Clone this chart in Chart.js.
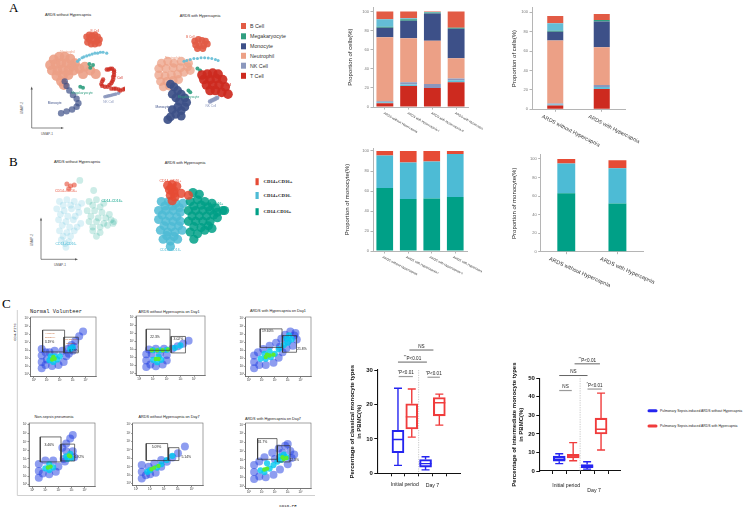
<!DOCTYPE html>
<html>
<head>
<meta charset="utf-8">
<script src="https://cdn.jsdelivr.net/npm/chart.js@4.4.1/dist/chart.umd.min.js"></script>
<style>
  body { margin: 0; width: 753px; height: 509px; background: #fff; position: relative; overflow: hidden; }
  canvas { position: absolute; }
</style>
</head>
<body>
<svg width="753" height="509" style="position:absolute;left:0;top:0" font-family="'Liberation Sans', Arial, sans-serif">
  <text x="9" y="12" font-family="'Liberation Serif', serif" font-size="13">A</text>
  <text x="9" y="166" font-family="'Liberation Serif', serif" font-size="13">B</text>
  <text x="2" y="308" font-family="'Liberation Serif', serif" font-size="13">C</text>

  <text x="68" y="15.5" font-size="3.8" text-anchor="middle" fill="#222">ARDS without Hypercapnia</text>
  <text x="200" y="16.5" font-size="3.8" text-anchor="middle" fill="#222">ARDS with Hypercapnia</text>
  <text x="77" y="162.5" font-size="3.8" text-anchor="middle" fill="#222">ARDS without Hypercapnia</text>
  <text x="185" y="164" font-size="3.8" text-anchor="middle" fill="#222">ARDS with Hypercapnia</text>

  <g id="legA" font-size="5.3" fill="#333"></g>
  <g id="legB" font-size="4.8" fill="#222" font-family="'Liberation Serif', serif" font-weight="bold"></g>

  <g stroke="#555" stroke-width="0.7" fill="none">
    <path d="M31.7 89 V128 H61"/>
    <path d="M41 220 V259.3 H75"/>
  </g>
  <g fill="#555">
    <polygon points="30.6,89.5 32.8,89.5 31.7,86.5"/>
    <polygon points="61,126.9 61,129.1 64,128"/>
    <polygon points="39.9,220.5 42.1,220.5 41,217.5"/>
    <polygon points="75,258.2 75,260.4 78,259.3"/>
  </g>
  <text transform="translate(23,108) rotate(-90)" font-size="3.2" text-anchor="middle" fill="#555">UMAP-2</text>
  <text x="47" y="134.5" font-size="3.2" text-anchor="middle" fill="#555">UMAP-1</text>
  <text transform="translate(33,240) rotate(-90)" font-size="3.2" text-anchor="middle" fill="#555">UMAP-2</text>
  <text x="60" y="266" font-size="3.2" text-anchor="middle" fill="#555">UMAP-1</text>

  <path d="M17.3 310 V495.5 H315" stroke="#cfcfcf" stroke-width="1" fill="none"/>
  <text transform="translate(15.5,332) rotate(-90)" font-size="3.6" text-anchor="middle" font-family="'Liberation Mono', monospace" fill="#222">CD4-FITC</text>
  <text x="288" y="507" font-size="4.2" text-anchor="middle" font-family="'Liberation Mono', monospace" fill="#222">CD16-PE</text>
  <g id="flowTitles" fill="#222"></g>

  <line x1="649" y1="410.7" x2="656" y2="410.7" stroke="#2525f0" stroke-width="3" stroke-linecap="round"/>
  <line x1="649" y1="426" x2="656" y2="426" stroke="#f03c3c" stroke-width="3" stroke-linecap="round"/>
  <text x="660" y="411.9" font-size="3.4" fill="#222">Pulmonary Sepsis-induced ARDS without Hypercapnia</text>
  <text x="660" y="427.2" font-size="3.4" fill="#222">Pulmonary Sepsis-induced ARDS with Hypercapnia</text>
</svg>

<script>
// ---------------- data ----------------
// A: UMAP clusters (UMAP units, one unit ~ one pixel of the plot)
const umapA1 = {
  'Monocyte': [[49,48],[51,43],[54,38],[58,33],[62,29],[64,24],[62,20],[57,17],[51,15],[45,13]],
  'T Cell': [[95,61],[97,61],[99,62],[101,62],[103,60],[103,58],[103,55],[102,53],[102,50],[101,48],[100,46],[98,44],[96,42],[93,42],[90,43],[89,45],[90,48],[91,50],[100,40],[103,40],[105,40],[108,39],[110,38],[113,39],[115,40]],
  'NK Cell': [[93,31],[95,31.5],[97,32],[99,32.5],[101,33],[103,33.5],[105,34],[108,35]],
  'Megakaryocyte': [[66,42],[69,41],[76,67],[80,66],[77,63]],
  'B Cell': [[73,97],[76,99],[79,98],[82,99],[85,97],[87,94],[84,92],[80,93],[76,94],[74,91],[78,89],[82,89],[86,90]],
  'Other': [[63,70],[65,72],[68,74],[70,75],[73,76],[76,77],[79,78],[82,79],[85,79],[88,80],[91,80],[95,79]],
  'Neutrophil': [[37,72],[43,75],[49,75],[55,73],[60,68],[33,66],[39,67],[45,68],[51,68],[57,65],[35,60],[41,60],[47,61],[53,60],[59,60],[40,54],[47,54],[53,55],[45,48],[48,44],[65,62],[71,64],[77,60],[83,56],[69,56]]
};
const umapA2 = {
  'Monocyte': [[23,45],[27,42],[31,38],[35,34],[39,30],[41,25],[39,20],[35,16],[29,12],[23,9],[25,34],[29,30],[33,26],[31,20],[25,17],[20,6],[35,10]],
  'T Cell': [[58,55],[64,56],[70,57],[76,56],[60,50],[67,50],[74,51],[81,50],[63,44],[70,44],[77,44],[84,42],[73,38],[80,36],[87,34],[67,38]],
  'NK Cell': [[67,26],[69,27],[71,28],[73,29],[75,30]],
  'Megakaryocyte': [[43,38],[45,36],[53,62],[56,60]],
  'B Cell': [[50,92],[54,94],[58,93],[62,92],[64,89],[60,87],[55,87],[51,88],[53,84],[59,84]],
  'Other': [[38,70],[41,71],[45,72],[49,73],[53,73],[57,74],[61,74],[65,73.5],[69,73],[73,72],[76,71]],
  'Neutrophil': [[13,68],[20,70],[27,68],[35,70],[43,68],[10,62],[18,62],[26,63],[34,63],[42,64],[10,55],[17,54],[24,55],[31,56],[38,58],[45,60],[12,48],[19,48],[26,49],[32,50],[15,42],[22,43]]
};
const labelsA1 = [['B Cell',82,103],['Neutrophil',52,80],['T Cell',108,52],['Megakaryocyte',68,35],['NK Cell',97,25],['Monocyte',38,24]];
const labelsA2 = [['B Cell',45,97],['Neutrophil',25,73],['T Cell',86,44],['NK Cell',68,21],['Megakaryocyte',43,31],['Monocyte',14,20]];
const cellTypes = ['B Cell','Megakaryocyte','Monocyte','Neutrophil','NK Cell','T Cell'];

// A: stacked proportions, bottom to top
const sampleLabels = ['ARDS without Hypercapnia','ARDS with Hypercapnia-I','ARDS with Hypercapnia-II','ARDS with Hypercapnia-III'];
const groupLabels = ['ARDS without Hypercapnia','ARDS with Hypercapnia'];
const stackOrder = ['T Cell','Other','NK Cell','Neutrophil','Monocyte','Megakaryocyte','Other','B Cell'];
const cellsBySample = [
  [4, 22, 20, 26],
  [1, 1.5, 0, 2],
  [1, 2.5, 4, 2],
  [67, 46, 45.5, 21],
  [10, 18.5, 28.5, 31],
  [1, 1.5, 1, 1],
  [8, 1, 0.5, 0],
  [8, 7, 0.5, 17]
];
const cellsByGroup = [
  [4, 21], [1, 2], [1, 2], [65, 39], [9, 26.5], [1, 1.5], [7.7, 0], [7.5, 6.3]
];

// B: monocyte subsets
const monoTypes = ['CD14+CD16+','CD14+CD16-','CD14-CD16+'];
const umapB1 = {
  'CD14+CD16+': [[41,84],[45,82],[49,83],[43,79]],
  'CD14-CD16+': [[65,65],[73,67],[81,63],[63,55],[71,55],[79,53],[87,51],[65,43],[73,43],[81,41],[89,45],[69,33],[77,31],[92,43],[91,41],[55,88],[70,77],
                 [69,61],[77,59],[67,49],[75,47],[83,47],[69,37],[77,37],[85,39],[73,27]],
  'CD14+CD16-': [[33,65],[41,67],[49,65],[57,63],[30,57],[38,55],[46,57],[54,53],[32,45],[40,43],[48,45],[56,41],[33,33],[41,31],[49,33],[35,23],[43,21],[40,15],
                 [37,61],[45,61],[53,59],[34,51],[42,49],[50,49],[36,39],[44,37],[52,37],[37,27],[45,27],[39,19]]
};
const umapB2 = {
  'CD14+CD16+': [[20,78],[25,79],[30,77],[22,73],[27,72],[23,67],[28,65],[25,61],[35,69],[43,67],[24,75],[27,69]],
  'CD14-CD16+': [[45,60],[53,62],[61,60],[69,58],[43,50],[51,50],[59,50],[67,50],[75,48],[43,38],[51,38],[59,38],[67,38],[75,42],[81,50],[45,26],[53,24],[61,28],[69,30],[49,18],[48,70],[55,68],[83,50],
                 [49,55],[57,56],[65,54],[73,53],[47,44],[55,44],[63,44],[71,45],[49,32],[57,31],[65,33]],
  'CD14+CD16-': [[13,60],[21,60],[29,58],[37,58],[10,50],[18,50],[26,50],[34,48],[10,40],[18,38],[26,38],[34,38],[12,28],[20,26],[28,26],[36,28],[15,18],[23,16],[31,18],[23,10],
                 [17,55],[25,55],[33,53],[14,45],[22,44],[30,43],[16,33],[24,32],[32,33],[19,22],[27,21]]
};
const labelsB1 = [['CD14+CD16+',40,76],['CD14-CD16+',90,65],['CD14+CD16-',40,19]];
const labelsB2 = [['CD14+CD16+',23,83],['CD14-CD16+',70,57],['CD14+CD16-',23,6]];
const monoSampleCD14nCD16p = [63, 52, 52.5, 54];
const monoSampleCD14pCD16n = [32.5, 36.5, 37, 43];
const monoSampleCD14pCD16p = [4.5, 11.5, 10.5, 3];
const monoGroupCD14nCD16p = [63, 52];
const monoGroupCD14pCD16n = [32, 38];
const monoGroupCD14pCD16p = [5, 8.5];

// C: flow plots, log10 units
const flowTitles = ['Normal Volunteer','ARDS without Hypercapnia on Day1','ARDS with Hypercapnia on Day1','Non-sepsis pneumonia','ARDS without Hypercapnia on Day7','ARDS with Hypercapnia on Day7'];
const flowGates = [
  [[0.67,2.37,2.84,5.56],[2.32,3.43,2.73,4.68]],
  [[0.50,2.24,2.89,5.54],[2.32,3.37,2.56,4.63]],
  [[0.87,2.56,3.40,5.72],[2.60,3.68,2.80,4.88]],
  [[0.61,2.20,2.65,5.57],[2.20,3.24,2.76,4.73]],
  [[0.72,2.26,2.74,4.76],[2.33,3.07,2.74,4.27]],
  [[0.67,2.17,3.06,5.42],[2.20,3.18,2.76,4.61]]
];
const flowPct = [
  [['3.19%',1.2,4.05],['6.19%',3.1,2.97]],
  [['22.3%',1.14,4.61],['3.02%',2.85,4.3]],
  [['19.60%',1.46,5.4],['21.8%',4.1,3.2]],
  [['3.46%',1.3,4.63],['6.92%',3.6,3.22]],
  [['5.09%',1.46,4.34],['5.14%',3.6,3.11]],
  [['31.7%',1.05,4.98],['22.3%',3.5,2.95]]
];
const normalGateNames = [['Classical',1.25,5.16],['Monocyte',1.25,4.68],['Intermediate',2.88,4.36],['Monocyte',2.88,3.88]];
const flowOuter = [
  [[0.6,0.8],[0.6,1.6],[0.6,2.4],[0.6,3.2],[0.9,1.2],[0.9,2.8],[1.0,1.9],[1.4,1.1],[1.9,1.2],[2.3,1.6],[2.5,2.3],[2.2,3.0],[1.6,3.0],[1.2,2.8],[2.6,3.2],[2.9,3.7],[3.2,4.2],[3.5,4.8],[3.8,5.4],[2.7,2.6],[3.0,3.0],[3.1,3.5]],
  [[0.5,0.8],[0.5,1.6],[0.5,2.4],[0.8,1.1],[1.2,0.9],[1.7,1.1],[2.0,1.6],[2.0,2.3],[1.5,2.5],[0.9,2.4],[0.7,3.0],[1.2,3.1],[1.8,3.1],[2.4,3.1],[2.8,3.4],[3.2,3.7],[3.6,4.1]],
  [[0.4,0.8],[0.4,1.6],[0.4,2.4],[0.8,1.2],[1.3,1.2],[1.9,1.5],[2.3,2.1],[2.6,2.8],[2.9,3.3],[3.4,3.6],[3.7,4.4],[3.6,5.2],[3.2,5.4],[2.8,5.0],[2.5,4.5],[2.1,4.0],[1.6,3.6],[1.1,3.2],[0.7,2.8],[2.4,3.5],[3.0,4.2],[3.5,4.9]],
  [[0.5,0.8],[0.5,1.6],[0.5,2.4],[0.8,1.3],[1.3,1.2],[1.8,1.5],[2.0,2.1],[1.6,2.8],[1.0,2.8],[2.4,3.0],[2.6,3.9],[3.2,3.2],[3.1,3.9],[2.5,2.7],[2.3,4.3],[2.6,4.8],[2.9,5.4],[3.1,5.8]],
  [[0.4,0.6],[0.4,1.4],[0.4,2.2],[0.7,1.0],[1.0,1.1],[1.4,1.3],[1.8,2.0],[2.2,2.6],[2.6,3.1],[3.0,3.6],[3.5,4.4],[0.9,2.0],[1.3,2.4],[1.8,2.8]],
  [[0.4,0.8],[0.4,1.6],[0.4,2.4],[0.8,1.1],[1.3,1.0],[1.9,1.3],[2.4,1.9],[3.0,2.5],[3.3,3.2],[3.2,4.0],[2.8,4.6],[2.3,4.3],[1.8,3.8],[1.2,3.3],[0.8,2.8],[2.0,3.1],[2.6,3.8],[3.5,3.6],[3.0,4.8]]
];
const flowMid = [
  [[1.2,1.8],[1.5,1.6],[1.8,1.9],[1.6,2.3],[1.3,2.3],[2.0,2.3],[2.8,3.2],[3.0,3.4]],
  [[1.0,1.7],[1.3,1.4],[1.6,1.7],[1.4,2.1],[1.0,2.9],[1.5,2.9],[2.0,2.95],[2.6,3.2],[3.0,3.5]],
  [[0.9,2.0],[1.3,2.0],[1.7,2.2],[2.0,2.6],[1.2,2.6],[1.6,2.9],[2.3,3.2],[2.7,3.7],[3.0,4.0],[3.3,4.4],[3.1,4.9],[2.9,4.5]],
  [[1.0,1.9],[1.3,1.7],[1.6,2.0],[1.3,2.4],[2.6,3.3],[2.9,3.6],[2.7,3.0],[3.0,3.1]],
  [[0.8,1.4],[1.0,1.6],[1.5,1.9],[1.8,2.3],[2.2,2.8],[2.6,3.3]],
  [[0.9,1.8],[1.2,1.6],[1.6,2.0],[1.9,2.4],[1.4,2.6],[2.2,2.8],[2.5,3.0],[2.9,3.3],[2.7,3.6],[2.4,3.4]]
];
const flowCore = [
  [[1.4,1.9],[1.6,2.0],[1.5,2.2]],
  [[1.2,1.8],[1.4,1.8],[0.9,2.9],[1.3,2.9],[1.7,2.9],[2.1,3.0]],
  [[1.3,2.2],[1.6,2.4],[1.9,2.5],[1.4,2.5]],
  [[1.2,2.0],[1.4,2.1],[2.8,3.4],[2.9,3.3]],
  [[1.1,1.7],[1.3,1.9],[1.6,2.1]],
  [[1.2,1.9],[1.4,2.0],[2.7,3.1],[2.9,3.2],[2.6,3.3]]
];

// C: box plots, [min, q1, median, q3, max] for Initial period and Day 7
const periods = ['Initial period', 'Day 7'];
const classicalNoHyper = [[2.3, 6.0, 9.8, 12.5, 24.7], [1.0, 1.8, 2.8, 4.0, 4.8]];
const classicalHyper = [[10.5, 12.9, 16.4, 20.2, 24.5], [14.0, 16.7, 20.5, 22.0, 23.0]];
const intermNoHyper = [[4.0, 5.3, 6.3, 8.0, 9.3], [1.0, 1.8, 2.5, 3.5, 5.0]];
const intermHyper = [[5.5, 7.0, 8.0, 9.0, 15.3], [11.3, 20.0, 22.5, 28.5, 42.0]];
// [from box, to box, height, text]
const classicalSig = [[0.83, 2.57, 35.8, 'NS'], [0, 2.1, 32.3, '**P<0.01'], [0.05, 1.08, 28.1, '*P<0.01'], [2.14, 3.04, 27.9, '*P<0.01']];
const intermSig = [[1.1, 2.92, 57.8, '**P<0.01'], [0, 2.03, 51.5, 'NS'], [0, 0.9, 43.4, 'NS'], [2.03, 3.05, 44.2, '*P<0.01']];

// ---------------- style ----------------
const FONT = '"Liberation Sans", Arial, sans-serif';
Chart.defaults.font.family = FONT;
const cellColors = { 'B Cell': '#e25b45', 'Megakaryocyte': '#2f9e80', 'Monocyte': '#3d5088', 'Neutrophil': '#eca086', 'NK Cell': '#8b97bd', 'T Cell': '#cd2a1f', 'Other': '#64bdd6' };
const monoColors = { 'CD14+CD16+': '#e64b35', 'CD14+CD16-': '#4dbbd5', 'CD14-CD16+': '#00a087' };
const BLUE = '#2525f0', RED = '#f03c3c';
const SUP = ['\u2070','\u00b9','\u00b2','\u00b3','\u2074','\u2075','\u2076','\u2077'];

function rgba(hex, a) {
  const n = parseInt(hex.slice(1), 16);
  return `rgba(${n >> 16},${(n >> 8) & 255},${n & 255},${a})`;
}

// canvas box around a chart area [left, top, right, bottom]
function fit(box, pl, pt, pr, pb) {
  const l = Math.floor(box[0] - pl), t = Math.floor(box[1] - pt);
  const r = Math.ceil(box[2] + pr), b = Math.ceil(box[3] + pb);
  return { l, t, w: r - l, h: b - t, yw: box[0] - l, pt: box[1] - t, pr: r - box[2], xh: b - box[3] };
}
function place(f) {
  const c = document.createElement('canvas');
  c.width = f.w; c.height = f.h;
  c.style.cssText = `left:${f.l}px;top:${f.t}px;width:${f.w}px;height:${f.h}px`;
  document.body.appendChild(c);
  return c.getContext('2d');
}
const base = { responsive: false, animation: false, events: [] };
const noLegend = { legend: { display: false }, tooltip: { enabled: false } };

// --- svg legends and titles ---
const svgNS = 'http://www.w3.org/2000/svg';
function svgEl(parent, tag, attrs, text) {
  const e = document.createElementNS(svgNS, tag);
  Object.entries(attrs).forEach(([k, v]) => e.setAttribute(k, v));
  if (text) e.textContent = text;
  document.getElementById(parent).appendChild(e);
}
[26, 36.3, 46.3, 55.8, 65.7, 75.8].forEach((cy, i) => {
  svgEl('legA', 'rect', { x: 241, y: cy - 3, width: 5, height: 6, fill: cellColors[cellTypes[i]] });
  svgEl('legA', 'text', { x: 250, y: cy + 1.8 }, cellTypes[i]);
});
[181.7, 195.5, 211.7].forEach((cy, i) => {
  svgEl('legB', 'rect', { x: 255.5, y: cy - 3.5, width: 3.2, height: 7, fill: monoColors[monoTypes[i]] });
  svgEl('legB', 'text', { x: 263.5, y: cy + 1.6 }, monoTypes[i]);
});
const flowTitlePos = [[56, 313], [169, 312.8], [278, 311.5], [54, 418.2], [169, 418.2], [273, 419.6]];
flowTitles.forEach((t, i) => {
  const a = { x: flowTitlePos[i][0], y: flowTitlePos[i][1], 'text-anchor': 'middle', 'font-size': 3.8 };
  if (i === 0) Object.assign(a, { 'font-family': "'Liberation Mono', monospace", 'font-size': 5.4 });
  svgEl('flowTitles', 'text', a, t);
});

// ---------------- UMAP ----------------
function umap(f, clusters, labels, colors, style) {
  const ctx = place(f);
  const labelPlugin = {
    id: 'clusterLabels',
    afterDatasetsDraw(chart) {
      const { ctx, scales: { x, y } } = chart;
      ctx.save();
      ctx.font = `${style.fs}px ${FONT}`;
      ctx.textAlign = 'center'; ctx.textBaseline = 'middle';
      labels.forEach(([t, lx, ly]) => {
        ctx.fillStyle = colors[t];
        ctx.fillText(t, x.getPixelForValue(lx), y.getPixelForValue(ly));
      });
      ctx.restore();
    }
  };
  new Chart(ctx, {
    type: 'scatter',
    data: {
      datasets: Object.keys(clusters).map(k => ({
        data: clusters[k].map(([x, y]) => ({ x, y })),
        backgroundColor: rgba(colors[k], style.a[k] || style.a0),
        pointRadius: style.r[k] || style.r0,
        borderWidth: 0
      }))
    },
    options: {
      ...base,
      layout: { padding: 0 },
      plugins: noLegend,
      scales: { x: { display: false, min: 0, max: f.w }, y: { display: false, min: 0, max: f.h } }
    },
    plugins: [labelPlugin]
  });
}
umap({ l: 15, t: 20, w: 115, h: 110 }, umapA1, labelsA1, cellColors,
  { r: { 'Neutrophil': 5, 'B Cell': 3.4, 'Monocyte': 3.2, 'T Cell': 2.2, 'NK Cell': 1.8, 'Megakaryocyte': 2, 'Other': 1.6 }, r0: 2.5, a: { 'Monocyte': 0.7, 'T Cell': 0.8 }, a0: 0.9, fs: 3.2 });
umap({ l: 145, t: 20, w: 95, h: 110 }, umapA2, labelsA2, cellColors,
  { r: { 'Neutrophil': 4.5, 'B Cell': 3.4, 'Monocyte': 4.4, 'T Cell': 4.8, 'NK Cell': 2.2, 'Megakaryocyte': 2, 'Other': 1.5 }, r0: 2.5, a: { 'Neutrophil': 0.75 }, a0: 0.92, fs: 3.2 });
umap({ l: 25, t: 170, w: 105, h: 95 }, umapB1, labelsB1, monoColors,
  { r: { 'CD14+CD16+': 2.5 }, r0: 3.4, a: { 'CD14+CD16+': 0.6 }, a0: 0.2, fs: 3.5 });
umap({ l: 145, t: 170, w: 95, h: 90 }, umapB2, labelsB2, monoColors,
  { r: {}, r0: 4.6, a: {}, a0: 0.85, fs: 3.5 });

// ---------------- stacked bars ----------------
function slant(o) {
  return {
    id: 'slant',
    afterDraw(chart) {
      const { ctx, scales: { x }, chartArea } = chart;
      ctx.save();
      ctx.font = `${o.size}px ${FONT}`;
      ctx.fillStyle = '#333'; ctx.textBaseline = 'middle'; ctx.textAlign = 'left';
      chart.data.labels.forEach((t, i) => {
        ctx.save();
        ctx.translate(x.getPixelForValue(i) + o.dx, chartArea.bottom + o.dy);
        ctx.rotate(o.angle * Math.PI / 180);
        ctx.fillText(t, 0, 0);
        ctx.restore();
      });
      ctx.restore();
    }
  };
}
function stackBars(f, labels, series, colors, cfg) {
  const ctx = place(f);
  const axisGrey = '#b5b5b5';
  new Chart(ctx, {
    type: 'bar',
    data: {
      labels,
      datasets: series.map((d, i) => ({ data: d, backgroundColor: colors[i], borderWidth: 0, barPercentage: cfg.bar, categoryPercentage: 1 }))
    },
    options: {
      ...base,
      layout: { padding: { top: f.pt, right: f.pr, left: 0, bottom: 0 } },
      plugins: noLegend,
      scales: {
        x: {
          stacked: true,
          border: { color: axisGrey, width: 1 },
          grid: { drawOnChartArea: false, offset: false, tickLength: 2.5, color: axisGrey },
          ticks: { display: false },
          afterFit: s => { s.height = f.xh; }
        },
        y: {
          stacked: true, min: 0, max: cfg.ymax,
          border: { color: axisGrey, width: 1 },
          grid: { drawOnChartArea: false, tickLength: 2.5, color: axisGrey },
          ticks: { stepSize: 20, includeBounds: false, font: { size: 4 }, color: '#777', padding: 1.5 },
          title: { display: true, text: cfg.title, font: { size: 6 }, color: '#222', padding: { top: 4, bottom: 0 } },
          afterFit: s => { s.width = f.yw; }
        }
      }
    },
    plugins: [slant(cfg.lab)]
  });
}
const stackColors = stackOrder.map(k => cellColors[k]);
stackBars(fit([373, 7.3, 468, 107], 30, 5, 15, 30), sampleLabels, cellsBySample, stackColors,
  { bar: 0.71, ymax: 104.5, title: 'Proportion of cells(%)', lab: { size: 3.2, dx: -1, dy: 6, angle: 30 } });
stackBars(fit([532, 7.9, 625, 109.3], 25, 6, 25, 43), groupLabels, cellsByGroup, stackColors,
  { bar: 0.345, ymax: 104.5, title: 'Proportion of cells(%)', lab: { size: 5.3, dx: -13, dy: 7, angle: 27 } });
const monoColorsStack = [monoColors['CD14-CD16+'], monoColors['CD14+CD16-'], monoColors['CD14+CD16+']];
stackBars(fit([373, 148, 467, 251], 33, 8, 15, 39), sampleLabels,
  [monoSampleCD14nCD16p, monoSampleCD14pCD16n, monoSampleCD14pCD16p], monoColorsStack,
  { bar: 0.71, ymax: 103, title: 'Proportion of monocyte(%)', lab: { size: 3.2, dx: -2, dy: 6, angle: 27 } });
stackBars(fit([540.7, 154.8, 643, 251.7], 33.7, 10, 24, 43), groupLabels,
  [monoGroupCD14nCD16p, monoGroupCD14pCD16n, monoGroupCD14pCD16p], monoColorsStack,
  { bar: 0.35, ymax: 104.5, title: 'Proportion of monocyte(%)', lab: { size: 5.5, dx: -17, dy: 7, angle: 24 } });

// ---------------- flow plots ----------------
const flowBoxes = [[30.7, 315, 97.3, 376.7], [136, 314.7, 207, 375.3], [245.7, 315, 312.7, 376.7],
                   [29, 421.7, 97, 486.7], [132.7, 421, 205, 485.7], [245.7, 421.7, 312.3, 488.3]];
function logAxis(max, f, dir) {
  return {
    min: -0.25, max,
    border: { color: '#444', width: 0.6 },
    grid: { drawOnChartArea: false, tickLength: 1.5, color: '#444', lineWidth: 0.6 },
    ticks: { stepSize: 1, includeBounds: false, autoSkip: false, maxRotation: 0, padding: 0.5, font: { size: 2.8 }, color: '#333',
             callback: v => Number.isInteger(v) && SUP[v] ? '10' + SUP[v] : '' },
    afterFit: s => { if (dir === 'x') s.height = f.xh; else s.width = f.yw; }
  };
}
const framePlugin = {
  id: 'frame',
  afterDatasetsDraw(chart) {
    const { ctx, chartArea: a } = chart;
    ctx.save(); ctx.strokeStyle = '#666'; ctx.lineWidth = 0.6;
    ctx.strokeRect(a.left, a.top, a.right - a.left, a.bottom - a.top);
    ctx.restore();
  }
};
function flowText(i) {
  return {
    id: 'flowText',
    afterDatasetsDraw(chart) {
      const { ctx, scales: { x, y } } = chart;
      ctx.save(); ctx.textAlign = 'center'; ctx.textBaseline = 'middle';
      ctx.font = `3.4px ${FONT}`; ctx.fillStyle = '#222';
      flowPct[i].forEach(([t, px, py]) => ctx.fillText(t, x.getPixelForValue(px), y.getPixelForValue(py)));
      if (i === 0) {
        ctx.font = `2.6px "Liberation Serif", serif`; ctx.fillStyle = '#c0602a';
        normalGateNames.forEach(([t, px, py]) => ctx.fillText(t, x.getPixelForValue(px), y.getPixelForValue(py)));
      }
      ctx.restore();
    }
  };
}
const pts = a => a.map(([x, y]) => ({ x, y }));
flowBoxes.forEach((box, i) => {
  const f = fit(box, 11, 2, 2, 8);
  const ctx = place(f);
  const gates = flowGates[i].map(([x1, x2, y1, y2]) => ({
    data: pts([[x1, y1], [x2, y1], [x2, y2], [x1, y2], [x1, y1]]),
    showLine: true, borderColor: '#333', borderWidth: 0.7, pointRadius: 0, tension: 0, order: 1
  }));
  new Chart(ctx, {
    type: 'scatter',
    data: {
      datasets: [
        ...gates,
        { data: pts(flowCore[i]), backgroundColor: 'rgba(90,235,50,1)', pointRadius: 2.2, borderWidth: 0, order: 2 },
        { data: pts(flowMid[i]), backgroundColor: 'rgba(0,200,240,0.8)', pointRadius: 3.1, borderWidth: 0, order: 3 },
        { data: pts(flowOuter[i]), backgroundColor: 'rgba(30,60,225,0.5)', pointRadius: 4, borderWidth: 0, order: 4 }
      ]
    },
    options: {
      ...base,
      layout: { padding: { top: f.pt, right: f.pr, left: 0, bottom: 0 } },
      plugins: noLegend,
      scales: { x: logAxis(4.8, f, 'x'), y: logAxis(7.2, f, 'y') }
    },
    plugins: [framePlugin, flowText(i)]
  });
});

// ---------------- box plots ----------------
function boxDecor(sets, sig, cfg) {
  return {
    id: 'boxDecor',
    afterDatasetsDraw(chart) {
      const { ctx, scales: { x, y }, chartArea } = chart;
      ctx.save();
      // day separator
      ctx.strokeStyle = '#bbb'; ctx.lineWidth = 0.8; ctx.setLineDash([1.2, 1.2]);
      const sx = x.getPixelForValue(1.5);
      ctx.beginPath(); ctx.moveTo(sx, chartArea.top); ctx.lineTo(sx, chartArea.bottom); ctx.stroke();
      ctx.setLineDash([]);
      // whiskers and medians
      sets.forEach(([vals, color, off]) => vals.forEach((b, g) => {
        const px = x.getPixelForValue(g * 2 + off);
        const [mn, q1, md, q3, mx] = b.map(v => y.getPixelForValue(v));
        ctx.strokeStyle = color; ctx.lineWidth = 1.4;
        ctx.beginPath();
        ctx.moveTo(px, mx); ctx.lineTo(px, q3);
        ctx.moveTo(px, q1); ctx.lineTo(px, mn);
        ctx.moveTo(px - 4, mx); ctx.lineTo(px + 4, mx);
        ctx.moveTo(px - 4, mn); ctx.lineTo(px + 4, mn);
        ctx.moveTo(px - 6, md); ctx.lineTo(px + 6, md);
        ctx.stroke();
      }));
      // significance bars
      ctx.textBaseline = 'alphabetic';
      sig.forEach(([a, b, v, t]) => {
        const within = b - a < 1.2;
        const py = y.getPixelForValue(v);
        const x1 = x.getPixelForValue(a), x2 = x.getPixelForValue(b);
        ctx.strokeStyle = within ? '#9a9a9a' : '#222'; ctx.lineWidth = within ? 1.2 : 0.7;
        ctx.beginPath(); ctx.moveTo(x1, py); ctx.lineTo(x2, py); ctx.stroke();
        ctx.fillStyle = '#222';
        const stars = (t.match(/^\*+/) || [''])[0];
        const rest = t.slice(stars.length);
        ctx.font = `4.6px ${FONT}`;
        const wr = ctx.measureText(rest).width;
        ctx.font = `3.6px ${FONT}`;
        const ws = ctx.measureText(stars).width;
        const left = (x1 + x2) / 2 - (wr + ws) / 2;
        ctx.textAlign = 'left';
        ctx.fillText(stars, left, py - 3.6);
        ctx.font = `4.6px ${FONT}`;
        ctx.fillText(rest, left + ws, py - 2.2);
      });
      // period labels
      ctx.font = `5.2px ${FONT}`; ctx.fillStyle = '#222'; ctx.textBaseline = 'middle'; ctx.textAlign = 'center';
      periods.forEach((p, g) => ctx.fillText(p, x.getPixelForValue(g * 2 + 0.5), chartArea.bottom + cfg.labDy[g]));
      ctx.restore();
    }
  };
}
function boxChart(f, noHyp, hyp, cfg) {
  const ctx = place(f);
  const boxes = (vals, off, color) => ({
    data: vals.map((b, g) => ({ x: g * 2 + off, y: [b[1], b[3]] })),
    backgroundColor: 'rgba(255,255,255,0)', borderColor: color, borderWidth: 1.4, borderSkipped: false,
    barThickness: 12, grouped: false
  });
  new Chart(ctx, {
    type: 'bar',
    data: { datasets: [boxes(noHyp, 0, BLUE), boxes(hyp, 1, RED)] },
    options: {
      ...base,
      layout: { padding: { top: f.pt, right: f.pr, left: 0, bottom: 0 } },
      plugins: noLegend,
      scales: {
        x: {
          type: 'linear', min: cfg.xmin, max: cfg.xmax,
          border: { color: '#111', width: 1.1 },
          grid: { drawOnChartArea: false, tickLength: 3, color: '#111', lineWidth: 1 },
          ticks: { stepSize: 1, includeBounds: false, display: false },
          afterFit: s => { s.height = f.xh; }
        },
        y: {
          min: 0, max: cfg.ymax,
          border: { color: '#111', width: 1.1 },
          grid: { drawOnChartArea: false, tickLength: 3, color: '#111', lineWidth: 1 },
          ticks: { stepSize: 10, font: { size: 6, weight: 'bold' }, color: '#111', padding: 1.5 },
          title: { display: true, text: cfg.title, font: { size: 6, weight: 'bold' }, color: '#111', padding: { top: 3.5, bottom: 0 } },
          afterFit: s => { s.width = f.yw; }
        }
      }
    },
    plugins: [boxDecor([[noHyp, BLUE, 0], [hyp, RED, 1]], cfg.sig, cfg)]
  });
}
boxChart(fit([377.3, 370, 460, 473.3], 32.3, 35, 10, 27), classicalNoHyper, classicalHyper,
  { xmin: -0.75, xmax: 3.75, ymax: 30, sig: classicalSig, labDy: [11, 12.5],
    title: ['Percentage of classical monocyte types', 'in PBMC(%)'] });
boxChart(fit([539.3, 378.3, 620.7, 471], 31.3, 38.3, 11.3, 29), intermNoHyper, intermHyper,
  { xmin: -0.7, xmax: 3.68, ymax: 50, sig: intermSig, labDy: [14.5, 20],
    title: ['Percentage of intermediate monocyte types', 'in PBMC(%)'] });
</script>
</body>
</html>
